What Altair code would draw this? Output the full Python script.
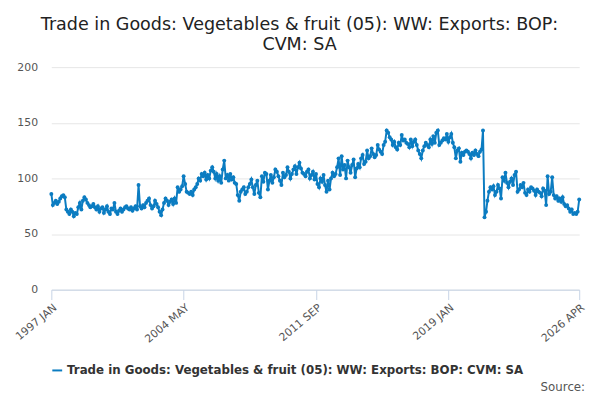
import altair as alt
import pandas as pd

years = list(range(1997, 2027))
values_by_year = [
[86,76,78,80,77,79,82,84,85,83,72,70],
[68,72,70,66,69,68,74,78,72,80,83,81],
[78,76,74,75,77,74,72,75,70,73,74,69],
[72,75,70,68,73,72,78,70,68,71,73,70],
[72,74,75,73,72,74,71,73,75,72,94,75],
[73,76,74,78,80,82,76,73,75,80,77,74],
[70,67,72,78,82,80,76,79,81,77,82,78],
[92,88,90,93,102,95,88,87,86,88,85,90],
[92,95,100,98,104,102,105,99,103,100,107,110],
[106,100,104,98,102,96,108,116,100,103,98,104],
[99,101,96,95,85,80,88,90,92,86,88,92],
[95,99,92,86,94,98,87,83,102,97,105,104],
[90,98,103,96,101,108,106,102,98,94,105,101],
[103,110,106,100,104,108,111,104,110,114,109,105],
[104,102,106,108,100,103,106,99,104,95,92,100],
[97,103,94,88,98,90,100,105,102,104,110,118],
[103,120,108,112,100,116,110,105,112,117,101,109],
[113,110,118,121,113,115,125,118,120,127,122,119],
[121,130,126,124,122,130,133,143,141,137,135,130],
[133,128,126,132,130,139,134,135,132,131,128,135],
[129,133,135,130,125,122,118,125,129,132,130,128],
[135,131,138,132,141,143,130,132,134,136,135,140],
[133,137,140,132,128,118,125,127,115,123,121,124],
[125,124,122,118,123,121,125,122,120,124,126,143],
[65,70,80,88,92,90,93,85,88,94,91,82],
[101,98,105,96,92,97,100,94,103,106,88,90],
[94,92,96,87,85,90,88,92,91,89,85,90],
[88,87,84,91,89,76,102,86,88,101,85,82],
[84,80,82,79,83,77,75,76,73,70,72,68],
[69,68,70,81],
]
tick_dates = ["1997-01-01", "2004-05-01", "2011-09-01", "2019-01-01", "2026-04-01"]
series = "Trade in Goods: Vegetables & fruit (05): WW: Exports: BOP: CVM: SA"
source_text = ["Source:"]

rows = []
for y, vals in zip(years, values_by_year):
    for m, v in enumerate(vals):
        rows.append({"date": f"{y}-{m+1:02d}-01", "value": v, "series": series})
df = pd.DataFrame(rows)

W, H = 536, 226

line = alt.Chart(df).mark_line(
    point=alt.OverlayMarkDef(size=16, filled=True), strokeWidth=2
).encode(
    x=alt.X("date:T", title=None,
            scale=alt.Scale(domain=["1997-01-01", "2026-04-01"]),
            axis=alt.Axis(values=tick_dates, format="%Y %b", labelExpr="upper(datum.label)",
                          labelAngle=-40, labelAlign="right", labelBaseline="top",
                          grid=False, domainColor="#c6d3e6", tickColor="#c6d3e6",
                          tickSize=10, labelColor="#555", labelFontSize=11,
                          labelFont="DejaVu Sans")),
    y=alt.Y("value:Q", title=None, scale=alt.Scale(domain=[0, 200]),
            axis=alt.Axis(values=[0, 50, 100, 150, 200], domain=False, ticks=False,
                          gridColor="#e6e6e6", labelColor="#555", labelFontSize=11,
                          labelPadding=14, labelFont="DejaVu Sans")),
    color=alt.Color("series:N", scale=alt.Scale(range=["#0b7cc1"]),
                    legend=alt.Legend(orient="bottom", title=None, symbolType="stroke",
                                      labelFontWeight="bold", labelFontSize=12,
                                      labelColor="#333", labelLimit=600,
                                      labelFont="DejaVu Sans", symbolStrokeWidth=2,
                                      offset=20)),
)

src = alt.Chart(pd.DataFrame({"t": source_text})).mark_text(
    align="right", baseline="middle", fontSize=12, color="#555", font="DejaVu Sans"
).encode(text="t:N", x=alt.value(W + 6), y=alt.value(H + 99))

chart = alt.layer(line, src).properties(
    width=W, height=H,
    title=alt.TitleParams(["Trade in Goods: Vegetables & fruit (05): WW: Exports: BOP:", "CVM: SA"],
                          fontSize=17.8, fontWeight="normal", font="DejaVu Sans",
                          color="#222", anchor="middle", offset=8, dx=-16),
).configure_view(stroke=None)

chart.save("out.html", embed_options={"renderer": "svg", "actions": False})
